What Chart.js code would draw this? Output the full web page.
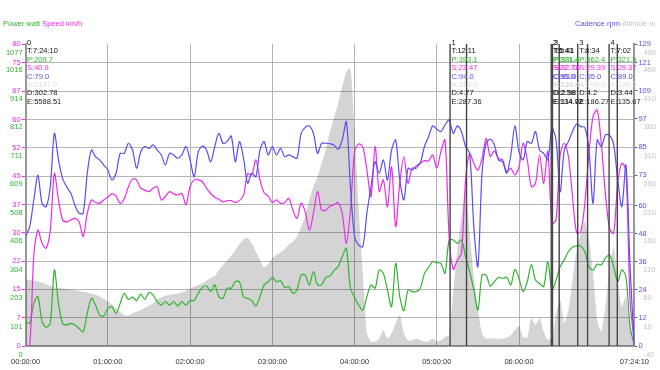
<!DOCTYPE html>
<html>
<head>
<meta charset="utf-8">
<script src="https://cdn.jsdelivr.net/npm/chart.js@4.4.1/dist/chart.umd.min.js"></script>
<style>
  html, body { margin: 0; padding: 0; background: #fff; }
  #wrap { width: 660px; height: 370px; }
</style>
</head>
<body>
<div id="wrap"><canvas id="ride" width="660" height="370"></canvas></div>
<script>
// Ride workout: speed / power on the left, cadence / altitude on the right.
// x values are minutes from the start (ride length 7:24:10).

const END_MIN = 444.17;

const minutes = [
  0, 3, 6, 9, 12, 15, 18, 21, 24, 27, 30, 33, 36, 39, 42, 45, 48, 51, 54, 57,
  60, 63, 66, 69, 72, 75, 78, 81, 84, 87, 90, 93, 96, 99, 102, 105, 108, 111, 114, 117,
  120, 123, 126, 129, 132, 135, 138, 141, 144, 147, 150, 153, 156, 159, 162, 165, 168, 171, 174, 177,
  180, 183, 186, 189, 192, 195, 198, 201, 204, 207, 210, 213, 216, 219, 222, 225, 228, 231, 234, 237,
  240, 243, 246, 249, 252, 255, 258, 261, 264, 267, 270, 273, 276, 279, 282, 285, 288, 291, 294, 297,
  300, 303, 306, 309, 312, 315, 318, 321, 324, 327, 330, 333, 336, 339, 342, 345, 348, 351, 354, 357,
  360, 363, 366, 369, 372, 375, 378, 381, 384, 387, 390, 393, 396, 399, 402, 405, 408, 411, 414, 417,
  420, 423, 426, 429, 432, 435, 438, 441, 444, 444.17
];

const speed = [
  0, 0, 24, 30.7, 27.2, 25.9, 30.7, 45.7, 38.7, 33.4, 32.9, 33.4, 33.8, 32.9, 29, 35.1, 38.7, 38, 37.8, 38.7,
  39.4, 40.3, 39.7, 37.8, 39, 42.2, 44.2, 44, 41.8, 41.3, 40.9, 41.8, 42.2, 38.7, 39.6, 40.9, 40.3, 40, 40.4, 37.4,
  42.2, 44, 44, 43.5, 41.8, 40.4, 39.4, 38.9, 38.2, 38.5, 38.5, 38, 38.5, 39.9, 45.7, 45.3, 49.3, 44, 40.6, 39.7,
  38, 38.7, 37.8, 38, 39.1, 36, 33.8, 37.8, 35.6, 30.7, 35.1, 40.9, 36, 36, 37, 37.4, 38, 35.1, 27.2, 36,
  51.5, 53.5, 52.8, 46.6, 39.6, 52.8, 40.9, 44, 36.9, 47.5, 31.6, 43.1, 50.2, 43.1, 47.1, 47.1, 48.4, 49.1, 49, 50.6,
  47.1, 51.5, 54.6, 29, 20.3, 22.8, 24.5, 44, 51, 48.4, 46.6, 49.7, 55, 50.2, 51.7, 49.7, 49.3, 46.2, 47.1, 45.3,
  47.5, 53.7, 49.3, 42.2, 43.1, 50.6, 43.1, 51.5, 32.5, 33.4, 50.6, 53.7, 50.2, 39.6, 30, 30.3, 37.8, 51, 60.8, 62.5,
  53.7, 40.4, 31.2, 29.8, 43.1, 48.4, 46.6, 12.2, 1.1, 0.7
];

const power = [
  85, 82, 152, 176, 87, 67, 81, 271, 152, 81, 75, 81, 75, 63, 51, 116, 170, 146, 110, 107,
  134, 140, 116, 152, 188, 166, 174, 162, 185, 166, 191, 182, 158, 146, 158, 146, 158, 143, 158, 146,
  162, 162, 188, 209, 214, 194, 218, 176, 170, 206, 206, 229, 229, 176, 170, 162, 143, 176, 218, 229,
  245, 229, 233, 209, 212, 188, 200, 253, 253, 218, 265, 218, 218, 245, 250, 269, 283, 319, 348, 206,
  174, 146, 128, 176, 218, 206, 271, 259, 200, 140, 295, 176, 126, 200, 194, 194, 206, 259, 280, 301,
  297, 295, 259, 378, 378, 366, 378, 319, 265, 200, 128, 253, 253, 214, 229, 245, 241, 245, 218, 273,
  241, 194, 229, 290, 235, 223, 212, 301, 200, 235, 283, 307, 336, 352, 357, 357, 336, 283, 271, 292,
  289, 313, 325, 283, 229, 271, 247, 69, 4, 0
];

const cadence = [
  46.7, 51, 62.4, 73, 60.9, 59.5, 68, 90.8, 79.5, 71.6, 68, 65.2, 60.2, 56.7, 56.7, 73.8, 83.7, 80.9, 79.5, 77.3,
  75.2, 70.9, 73.8, 82.3, 82.3, 86.6, 83.7, 75.9, 83, 85.2, 84.4, 85.9, 83.7, 81.6, 77.3, 82.3, 81.6, 80.2, 81.6, 85.2,
  79.5, 72.3, 83, 85.4, 83.7, 78.7, 85.2, 90.8, 86.6, 87.3, 89.7, 78.7, 87.3, 80.2, 69.5, 73.8, 72.3, 83.7, 87.3, 81.6,
  85.2, 81.6, 84.4, 80.9, 81.6, 80.9, 80.2, 90.8, 93.4, 94, 90.8, 82.3, 86.6, 86.6, 86.4, 85.9, 84, 88, 95.8, 68,
  46.7, 43.1, 42.4, 56.7, 68, 78.7, 73.8, 79.5, 70.9, 83.7, 88, 70.9, 62.4, 75.9, 75.2, 76.9, 78.3, 85.2, 89.4, 94,
  92.6, 91.6, 94.4, 96.5, 90.8, 94, 91.6, 85.2, 82.3, 51, 33.9, 73.8, 86.6, 88.3, 85.9, 79.5, 78.7, 73.8, 81.6, 94,
  83, 79.5, 87.3, 86.6, 91.6, 83.7, 82.3, 79.5, 93, 88, 65.9, 83.7, 87.3, 91.6, 94.8, 93.7, 93.4, 83.7, 60.9, 88,
  85.2, 90.1, 90.1, 86.3, 70.9, 59.5, 77.3, 33.9, 0.9, 0
];

const altitude = [
  77, 76, 75, 73, 71, 68, 65, 63, 62, 61, 60, 59, 58, 57, 55, 54, 52, 50, 47, 43,
  38, 33, 26, 20, 14, 14, 17, 20, 23, 27, 31, 35, 42, 45, 48, 50, 51, 52, 54, 57,
  61, 64, 67, 70, 75, 79, 83, 93, 102, 110, 118, 128, 139, 147, 150, 140, 126, 111, 98, 104,
  114, 120, 124, 130, 138, 143, 152, 169, 188, 216, 240, 257, 281, 304, 335, 360, 386, 415, 441, 447,
  339, 205, 88, -18, -32, -32, -27, -12, -27, -18, 0, 14, -18, -30, -30, -27, -30, -32, -32, -27,
  -32, -30, -24, -21, 55, 128, 187, 234, 158, 82, 26, -18, -27, -27, -27, -28, -27, -25, -21, -12,
  -5, -24, -25, 9, -3, 9, -15, -29, -27, 17, 41, 0, 23, 76, 128, 158, 178, 146, 88, 6,
  -15, 29, 93, 134, 76, 29, 47, -6, -32, -35
];

// axis ticks and their printed labels
const xTicks = [0, 60, 120, 180, 240, 300, 360, END_MIN];
const xLabels = ['00:00:00', '01:00:00', '02:00:00', '03:00:00', '04:00:00', '05:00:00', '06:00:00', '07:24:10'];
const speedTicks = [0, 7.5, 15, 22.5, 30, 37.5, 45, 52.5, 60, 67.5, 75, 80];
const speedLabels = ['0', '7', '15', '22', '30', '37', '45', '52', '60', '67', '75', '80'];
const powerTicks = [0, 101, 203, 304, 406, 508, 609, 711, 812, 914, 1016, 1077];
const cadenceTicks = [0, 12, 24, 36, 48, 60, 73, 85, 97, 109, 121, 129];
const altitudeTicks = [-40, 10, 60, 110, 160, 210, 260, 310, 360, 410, 460, 490];

// lap markers (minutes) and lap summaries
const lapLines = [309.7, 321.7, 383.5, 384.4, 389.3, 402.8, 410, 425.7, 431.7];
const lapStart = [0, 309.7, 383.5, 384.4, 402.8, 425.7];
const lapName = ['0', '1', '2', '3', '3', '4'];
const lapTime = ['7:24:10', '12:11', '5:41', '5:41', '8:34', '7:02'];
const lapPower = ['209.7', '393.1', '371.4', '331.4', '362.4', '321.5'];
const lapSpeed = ['40.9', '23.47', '27.72', '32.78', '29.39', '29.37'];
const lapCad = ['79.0', '94.0', '95.0', '93.0', '95.0', '89.0'];
const lapAlt = ['2147.0', '318.0', '134.0', '124.0', '199.0', '129.0'];
const lapDist = ['302.78', '4.77', '2.58', '2.98', '4.2', '3.44'];
const lapEnergy = ['5588.51', '287.36', '134.72', '114.02', '186.27', '135.67'];

const C = {
  speed:   '#ec2cec',
  power:   '#30b430',
  cadence: '#5a4ef2',
  alt:     '#c4c4c4',
  altFill: 'rgba(0,0,0,0.17)',
  grid:    '#b4b4b4',
  axis:    '#999',
  text:    '#333',
  lap:     '#454545',
};
const FONT = '"Liberation Sans", Arial, sans-serif';
Chart.defaults.font.family = FONT;
Chart.defaults.font.size = 7.5;

const pts = (vals) => vals.map((v, i) => ({ x: minutes[i], y: v }));
const plain = (v) => String(v);

function setTicks(values) {
  return (scale) => { scale.ticks = values.map((v) => ({ value: v })); };
}

// header titles + lap markers, drawn on top of the datasets
const overlay = {
  id: 'overlay',
  afterDatasetsDraw(chart) {
    const { ctx, chartArea, scales } = chart;
    const xs = scales.x;
    ctx.save();
    ctx.strokeStyle = C.lap;
    ctx.lineWidth = 1.4;
    lapLines.forEach((t) => {
      const px = xs.getPixelForValue(t);
      ctx.beginPath();
      ctx.moveTo(px, chartArea.top);
      ctx.lineTo(px, chartArea.bottom);
      ctx.stroke();
    });

    ctx.font = '7.5px ' + FONT;
    ctx.textBaseline = 'middle';
    ctx.textAlign = 'left';
    lapStart.forEach((t, i) => {
      const px = xs.getPixelForValue(t) + 1.5;
      const rows = [
        [lapName[i], '#111'],
        ['T:' + lapTime[i], '#111'],
        ['P:' + lapPower[i], C.power],
        ['S:' + lapSpeed[i], C.speed],
        ['C:' + lapCad[i], C.cadence],
        ['A:' + lapAlt[i], '#dcdcdc'],
        ['D:' + lapDist[i], '#222'],
        ['E:' + lapEnergy[i], '#222'],
      ];
      rows.forEach(([txt, col], r) => {
        ctx.fillStyle = col;
        ctx.fillText(txt, px, 43 + r * 8.4);
      });
    });

    // axis titles along the top
    let x = 3;
    [['Power watt', C.power], ['Speed km/h', C.speed]].forEach(([txt, col]) => {
      ctx.fillStyle = col;
      ctx.fillText(txt, x, 24);
      x += ctx.measureText(txt + ' ').width;
    });
    x = 575;
    [['Cadence rpm', C.cadence], ['Altitude m', C.alt]].forEach(([txt, col]) => {
      ctx.fillStyle = col;
      ctx.fillText(txt, x, 24);
      x += ctx.measureText(txt + ' ').width;
    });
    ctx.restore();
  },
};

const line = (label, vals, color, axis, order) => ({
  label,
  data: pts(vals),
  yAxisID: axis,
  borderColor: color,
  borderWidth: 1.2,
  pointRadius: 0,
  tension: 0.3,
  fill: false,
  order,
});

new Chart(document.getElementById('ride').getContext('2d'), {
  type: 'line',
  data: {
    datasets: [
      {
        label: 'Altitude',
        data: pts(altitude),
        yAxisID: 'yAlt',
        borderWidth: 0,
        backgroundColor: C.altFill,
        pointRadius: 0,
        tension: 0.2,
        fill: 'start',
        order: 10,
      },
      line('Power', power, C.power, 'yPow', 4),
      line('Speed', speed, C.speed, 'ySpd', 3),
      line('Cadence', cadence, C.cadence, 'yCad', 2),
    ],
  },
  options: {
    responsive: false,
    animation: false,
    events: [],
    layout: { padding: { top: 44, left: 0, right: 0, bottom: 0 } },
    plugins: { legend: { display: false }, tooltip: { enabled: false } },
    scales: {
      x: {
        type: 'linear',
        min: 0,
        max: END_MIN,
        afterBuildTicks: setTicks(xTicks),
        afterFit: (s) => { s.height = 24; },
        ticks: {
          autoSkip: false, maxRotation: 0, color: C.text, padding: 11,
          callback: (v, i) => xLabels[i],
        },
        grid: { color: C.grid, drawTicks: false },
        border: { color: C.axis, width: 2 },
      },
      ySpd: {
        position: 'left',
        weight: 1,
        min: 0,
        max: 80,
        afterBuildTicks: setTicks(speedTicks),
        afterFit: (s) => { s.width = 25; },
        ticks: { color: C.speed, padding: 1, callback: (v, i) => speedLabels[i] },
        grid: {
          color: (c) => (c.tick && c.tick.value === 80 ? 'rgba(0,0,0,0)' : C.grid),
          tickColor: C.speed,
          tickLength: 4,
        },
        border: { color: C.axis, width: 2 },
      },
      // zero-width outer axis; mirrored labels sit under the speed labels
      yPow: {
        position: 'left',
        weight: 2,
        min: 0,
        max: 1077,
        afterBuildTicks: setTicks(powerTicks),
        afterFit: (s) => { s.width = 0; },
        ticks: { color: C.power, mirror: true, crossAlign: 'far', padding: 5.3, labelOffset: 9, callback: plain },
        grid: { display: false, drawTicks: false },
        border: { display: false },
      },
      yCad: {
        position: 'right',
        weight: 1,
        min: 0,
        max: 129,
        afterBuildTicks: setTicks(cadenceTicks),
        afterFit: (s) => { s.width = 21.5; },
        ticks: { color: C.cadence, padding: 1, callback: plain },
        grid: { drawOnChartArea: false, tickColor: C.cadence, tickLength: 3 },
        border: { color: C.axis, width: 2 },
      },
      yAlt: {
        position: 'right',
        weight: 2,
        min: -40,
        max: 490,
        afterBuildTicks: setTicks(altitudeTicks),
        afterFit: (s) => { s.width = 0; },
        ticks: { color: C.alt, mirror: true, crossAlign: 'far', padding: 0, labelOffset: 9, callback: plain },
        grid: { display: false, drawTicks: false },
        border: { display: false },
      },
    },
  },
  plugins: [overlay],
});
</script>
</body>
</html>
